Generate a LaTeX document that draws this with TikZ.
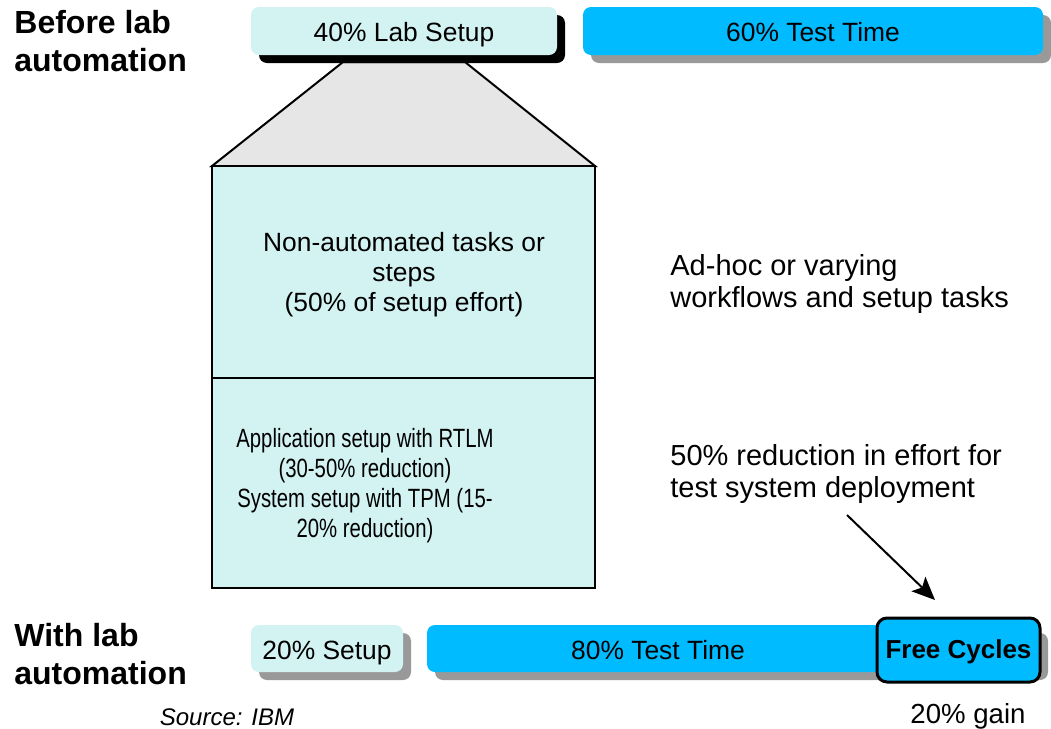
\documentclass[tikz,border=0pt]{standalone}
\usepackage{fontspec}
\setmainfont{Liberation Sans}
\newfontfamily\narrowsans[FakeStretch=0.77]{Liberation Sans}
\usetikzlibrary{shadows, arrows.meta}
\definecolor{setupcyan}{HTML}{D2F3F2}
\definecolor{testblue}{HTML}{00BBFF}
\definecolor{shadowgray}{HTML}{999999}
\definecolor{funnelgray}{HTML}{E6E6E6}
\tikzstyle{bar} = [rounded corners=4pt, inner sep=0pt, text height=10.5pt, text depth=0pt, font=\fontsize{13.2}{15}\selectfont]
\tikzstyle{setup} = [bar, fill=setupcyan]
\tikzstyle{test} = [bar, fill=testblue]
\tikzstyle{grayshadow} = [drop shadow={shadow xshift=4pt, shadow yshift=-4pt, fill=shadowgray, opacity=1}]
\tikzstyle{blackshadow} = [drop shadow={shadow xshift=4pt, shadow yshift=-4pt, fill=black, opacity=1}]
\tikzstyle{task} = [draw=black, line width=1pt, fill=setupcyan, minimum width=191.5pt]
\tikzstyle{tasktext} = [align=center, inner sep=0pt, font=\fontsize{13.2}{15}\selectfont]
\tikzstyle{heading} = [anchor=west, align=left, inner sep=0pt, font=\fontsize{16}{19}\selectfont\bfseries]
\tikzstyle{note} = [anchor=west, align=left, inner sep=0pt, font=\fontsize{14.5}{16}\selectfont]
\tikzstyle{arrow} = [line width=1pt, -{Stealth[length=11.5pt, width=10pt, inset=2.5pt]}]

\begin{document}
\begin{tikzpicture}[x=0.5pt, y=-0.5pt]
	\useasboundingbox (0,0) rectangle (1051,729);
	%Before
	\node[heading] (before) at (14,41) {Before lab\\automation};
	%Funnel
	\draw[line width=1pt, fill=funnelgray] (343,62) -- (465,62) -- (595,166) -- (212,166) -- cycle;
	\node[setup, blackshadow, minimum width=153pt, minimum height=24pt] (labsetup) at (404,31) {40\% Lab Setup};
	\node[test, grayshadow, minimum width=230pt, minimum height=24pt] (testbefore) at (813,31) {60\% Test Time};
	%Tasks
	\node[task, minimum height=106pt] (manual) at (403.5,272) {};
	\node[tasktext] (manualtext) at (404,275) {Non-automated tasks or\\steps\\(50\% of setup effort)};
	\node[task, minimum height=105pt] (automated) at (403.5,483) {};
	\node[tasktext, font=\fontsize{13.2}{15.1}\narrowsans] (autotext) at (365,485.5) {Application setup with RTLM\\(30-50\% reduction)\\System setup with TPM (15-\\20\% reduction)};
	%Notes
	\node[note] (adhoc) at (670,283.5) {Ad-hoc or varying\\workflows and setup tasks};
	\node[note] (reduction) at (670,473.5) {50\% reduction in effort for\\test system deployment};

	%With
	\node[heading] (with) at (14,654) {With lab\\automation};
	\node[setup, grayshadow, minimum width=76pt, minimum height=23.5pt] (setupafter) at (327,648.5) {20\% Setup};
	\node[test, grayshadow, minimum width=306.5pt, minimum height=23.5pt] (testafter) at (733.5,648.5) {};
	\node[bar] (testlabel) at (658,648.5) {80\% Test Time};
	\node[draw=black, line width=1.5pt, fill=testblue, rounded corners=5pt, minimum width=81.5pt, minimum height=32pt, inner sep=0pt, text height=8pt, text depth=0pt, font=\fontsize{13}{15}\selectfont\bfseries] (free) at (958.5,650) {Free Cycles};
	\node[anchor=base, inner sep=0pt, font=\fontsize{13.8}{16}\selectfont] (gain) at (968,723) {20\% gain};
	\node[anchor=base, inner sep=0pt, font=\fontsize{12}{14}\selectfont\itshape] (source) at (227,725) {Source: IBM};
	%Arrow
	\coordinate (tail) at (847,515);
	\coordinate (head) at (935,600);
	\draw[arrow] (tail) -- (head);
\end{tikzpicture}
\end{document}
